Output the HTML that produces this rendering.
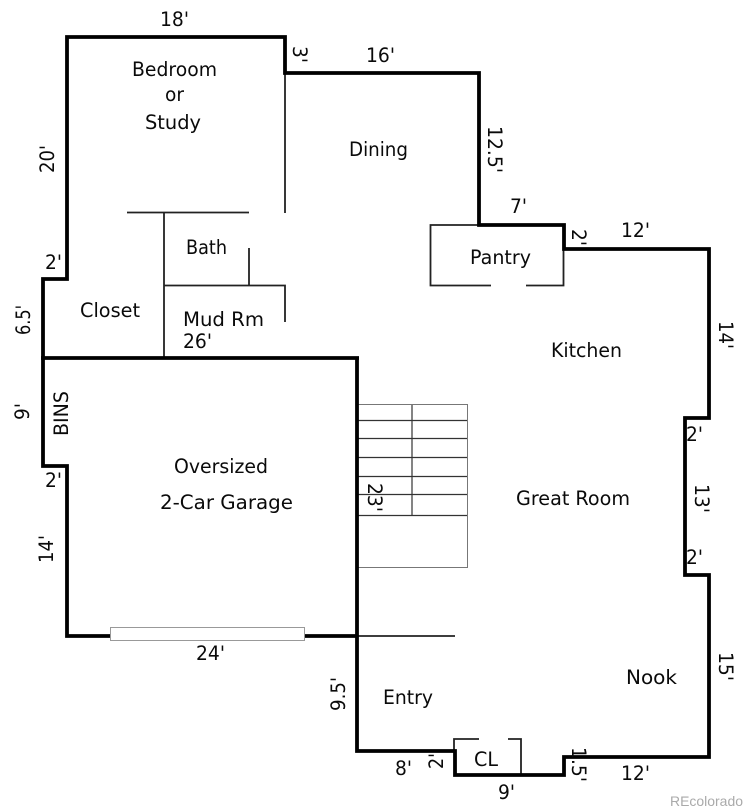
<!DOCTYPE html>
<html lang="en">
<head>
<meta charset="utf-8">
<title>Floor plan</title>
<style>
html,body{margin:0;padding:0;background:#fff}
svg{display:block}
text{font-family:"DejaVu Sans","Liberation Sans",sans-serif;font-size:19.5px;fill:#0a0a0a}
</style>
</head>
<body>
<svg width="748" height="811" viewBox="0 0 748 811" xmlns="http://www.w3.org/2000/svg">
<rect width="748" height="811" fill="#fff"/>
<g fill="none" stroke="#777" stroke-width="1">
<path d="M358 404.500H467.500V567.500H358"/>
</g>
<g fill="none" stroke="#333" stroke-width="1.200">
<path d="M358 420.500H467M358 438.500H467M358 457.500H467M358 476.500H467M358 494.500H467M358 515.500H467M412 405V515"/>
</g>
<g fill="none" stroke="#222" stroke-width="1.800">
<path d="M285 73V213"/>
<path d="M127 212.500H249"/>
<path d="M164 212V358"/>
<path d="M164 285.500H285V322"/>
<path d="M249 248V285"/>
<path d="M479 225H430.500V285.500H491"/>
<path d="M526 285.500H563.500V249"/>
<path d="M357 636H455"/>
<path d="M454 751V739H479"/>
<path d="M508 739H521V775"/>
</g>
<g fill="none" stroke="#000" stroke-width="3.800" stroke-linejoin="miter" stroke-linecap="butt">
<path d="M357 636H67V466H43V279H67V37H285V73H479V225H564V249H709V418H685V575H709V757H564V775H455V751H357V357"/>
<path d="M41 358H359"/>
</g>
<rect x="110.500" y="627.500" width="194" height="13" fill="#fff" stroke="#999" stroke-width="1"/>

<text x="132" y="76" textLength="85" lengthAdjust="spacingAndGlyphs">Bedroom</text>
<text x="165" y="101" textLength="19" lengthAdjust="spacingAndGlyphs">or</text>
<text x="145" y="129" textLength="56" lengthAdjust="spacingAndGlyphs">Study</text>
<text x="349" y="156" textLength="59" lengthAdjust="spacingAndGlyphs">Dining</text>
<text x="186" y="254" textLength="41" lengthAdjust="spacingAndGlyphs">Bath</text>
<text x="80" y="317" textLength="60" lengthAdjust="spacingAndGlyphs">Closet</text>
<text x="183" y="326" textLength="81" lengthAdjust="spacingAndGlyphs">Mud Rm</text>
<text x="183" y="348" textLength="29" lengthAdjust="spacingAndGlyphs">26'</text>
<text x="470" y="264" textLength="61" lengthAdjust="spacingAndGlyphs">Pantry</text>
<text x="551" y="357" textLength="71" lengthAdjust="spacingAndGlyphs">Kitchen</text>
<text x="174" y="473" textLength="94" lengthAdjust="spacingAndGlyphs">Oversized</text>
<text x="160" y="509" textLength="133" lengthAdjust="spacingAndGlyphs">2-Car Garage</text>
<text x="516" y="505" textLength="114" lengthAdjust="spacingAndGlyphs">Great Room</text>
<text x="383" y="704" textLength="50" lengthAdjust="spacingAndGlyphs">Entry</text>
<text x="626" y="684" textLength="51" lengthAdjust="spacingAndGlyphs">Nook</text>
<text x="474" y="766" textLength="24" lengthAdjust="spacingAndGlyphs">CL</text>

<text x="160" y="26" textLength="29" lengthAdjust="spacingAndGlyphs">18'</text>
<text x="366" y="62" textLength="29" lengthAdjust="spacingAndGlyphs">16'</text>
<text x="510" y="213" textLength="17" lengthAdjust="spacingAndGlyphs">7'</text>
<text x="621" y="237" textLength="29" lengthAdjust="spacingAndGlyphs">12'</text>
<text x="45" y="269" textLength="17" lengthAdjust="spacingAndGlyphs">2'</text>
<text x="45" y="487" textLength="17" lengthAdjust="spacingAndGlyphs">2'</text>
<text x="686" y="441" textLength="17" lengthAdjust="spacingAndGlyphs">2'</text>
<text x="686" y="564" textLength="17" lengthAdjust="spacingAndGlyphs">2'</text>
<text x="196" y="660" textLength="29" lengthAdjust="spacingAndGlyphs">24'</text>
<text x="395" y="775" textLength="17" lengthAdjust="spacingAndGlyphs">8'</text>
<text x="498" y="799" textLength="17" lengthAdjust="spacingAndGlyphs">9'</text>
<text x="621" y="780" textLength="29" lengthAdjust="spacingAndGlyphs">12'</text>

<text transform="translate(54,173) rotate(-90)" textLength="28" lengthAdjust="spacingAndGlyphs">20'</text>
<text transform="translate(30,335) rotate(-90)" textLength="30" lengthAdjust="spacingAndGlyphs">6.5'</text>
<text transform="translate(29,420) rotate(-90)" textLength="17" lengthAdjust="spacingAndGlyphs">9'</text>
<text transform="translate(68,436) rotate(-90)" textLength="45" lengthAdjust="spacingAndGlyphs">BINS</text>
<text transform="translate(53,563) rotate(-90)" textLength="28" lengthAdjust="spacingAndGlyphs">14'</text>
<text transform="translate(345,711) rotate(-90)" textLength="34" lengthAdjust="spacingAndGlyphs">9.5'</text>

<text transform="translate(293,46) rotate(90)" textLength="17" lengthAdjust="spacingAndGlyphs">3'</text>
<text transform="translate(488,126) rotate(90)" textLength="47" lengthAdjust="spacingAndGlyphs">12.5'</text>
<text transform="translate(572,229) rotate(90)" textLength="17" lengthAdjust="spacingAndGlyphs">2'</text>
<text transform="translate(719,321) rotate(90)" textLength="28" lengthAdjust="spacingAndGlyphs">14'</text>
<text transform="translate(368,483) rotate(90)" textLength="29" lengthAdjust="spacingAndGlyphs">23'</text>
<text transform="translate(695,484) rotate(90)" textLength="29" lengthAdjust="spacingAndGlyphs">13'</text>
<text transform="translate(719,652) rotate(90)" textLength="29" lengthAdjust="spacingAndGlyphs">15'</text>
<text transform="translate(572,747) rotate(90)" textLength="35" lengthAdjust="spacingAndGlyphs">1.5'</text>
<text transform="translate(443,769) rotate(-90)" textLength="16" lengthAdjust="spacingAndGlyphs">2'</text>

<text x="670" y="806" textLength="73" lengthAdjust="spacingAndGlyphs" style="font-family:'Liberation Sans',sans-serif;font-size:14px;fill:#aaa">REcolorado</text>
</svg>
</body>
</html>
